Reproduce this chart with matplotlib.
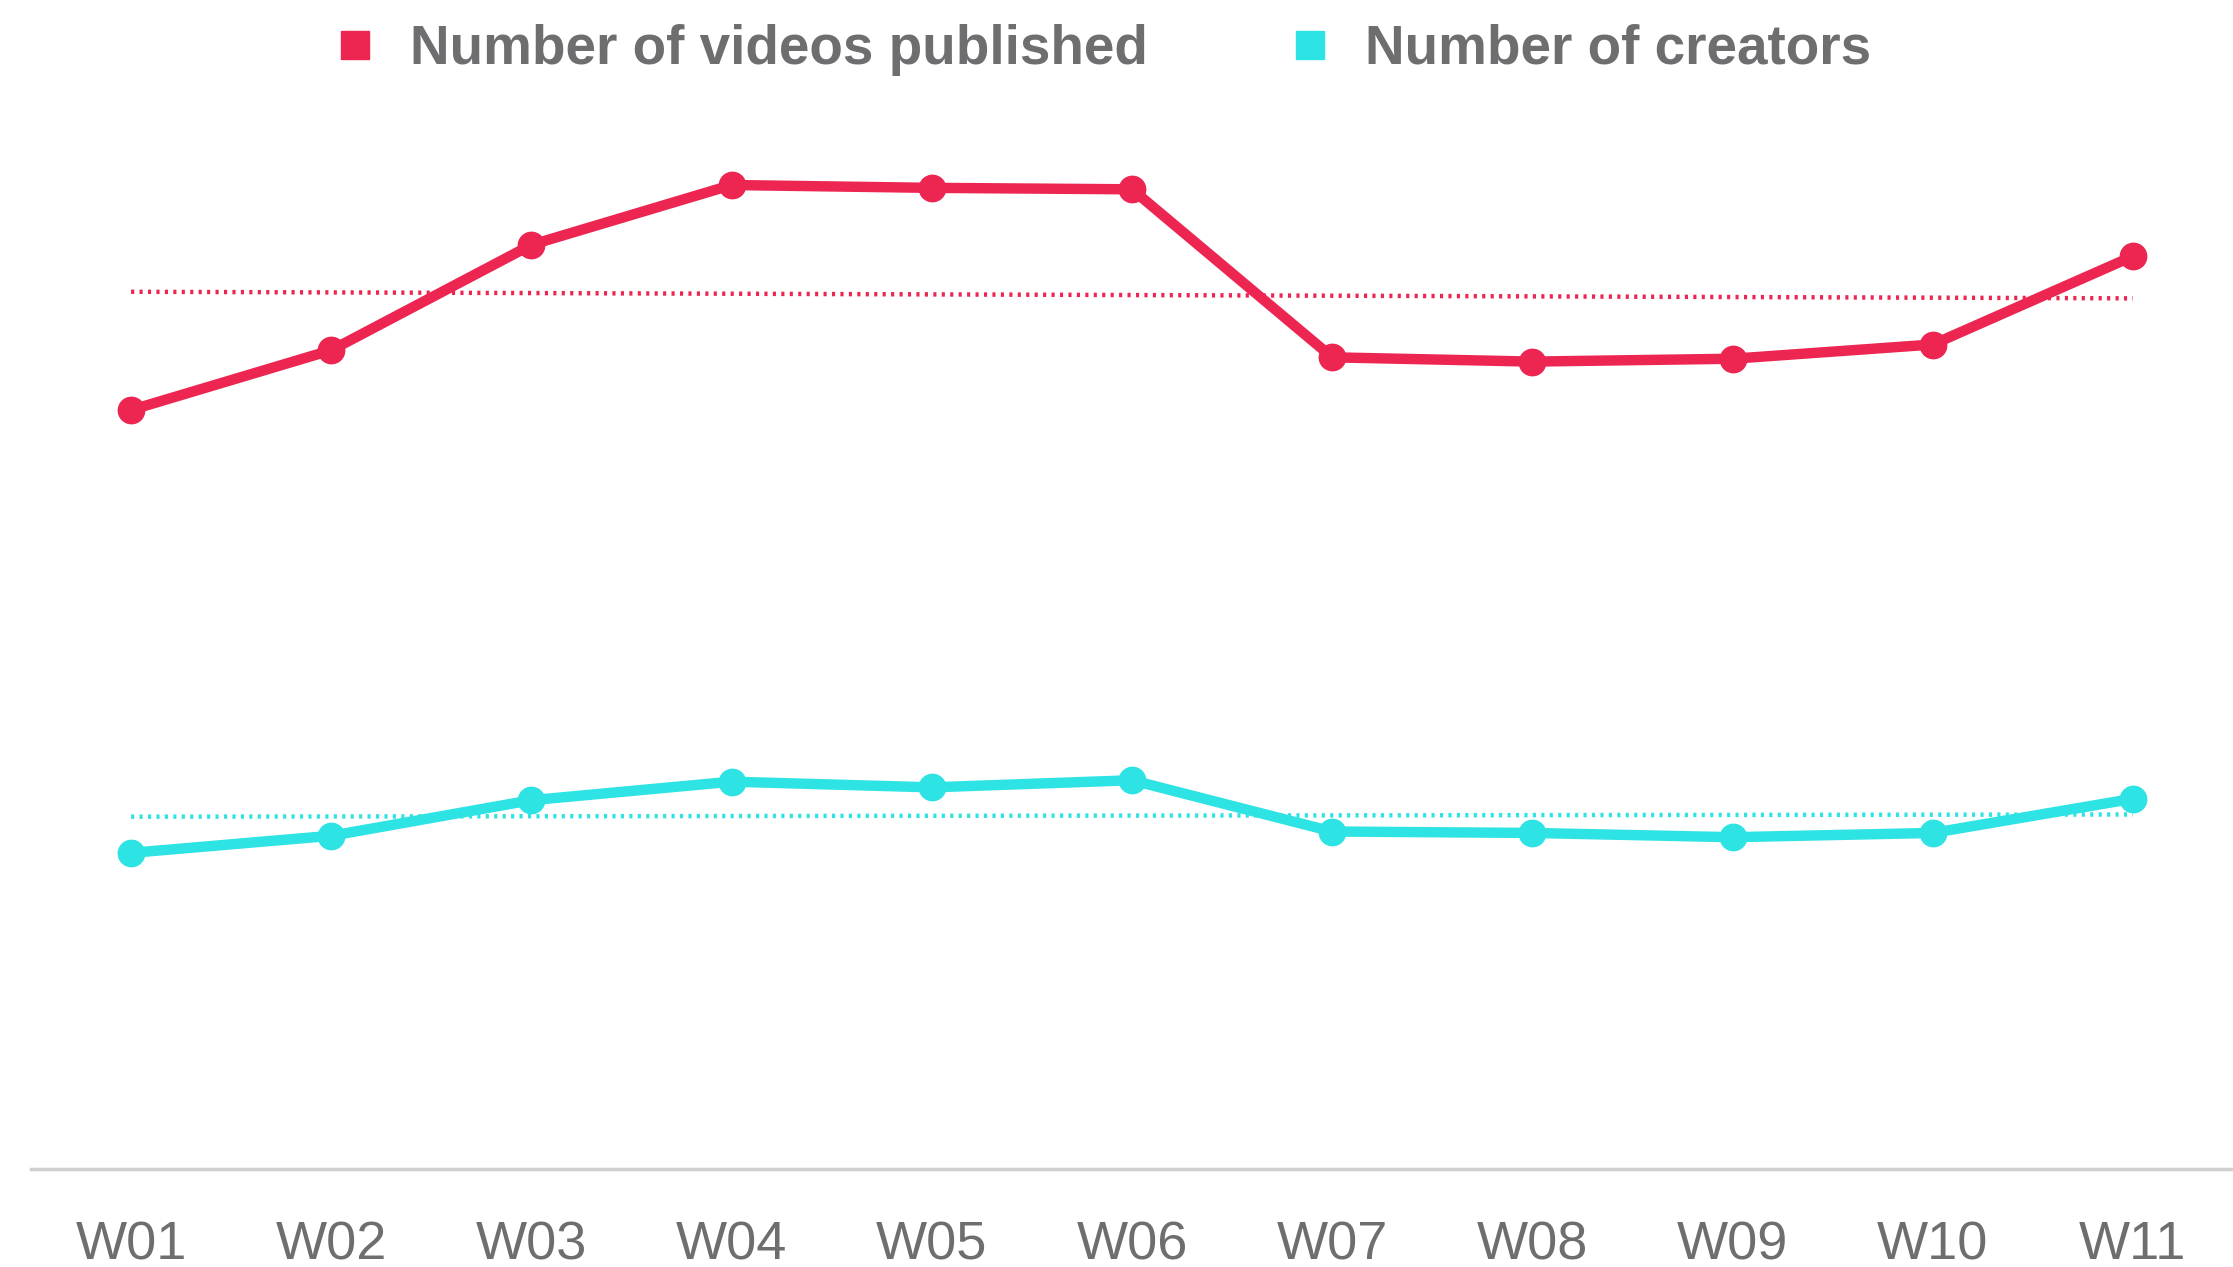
import numpy as np
import matplotlib
matplotlib.use("Agg")
import matplotlib.pyplot as plt
from matplotlib.lines import Line2D

weeks = ["W01", "W02", "W03", "W04", "W05", "W06", "W07", "W08", "W09", "W10", "W11"]
videos_published = [533, 575, 649, 691, 689, 688, 570, 567, 569, 579, 641]
creators = [222, 234, 259, 272, 268, 273, 237, 236, 233, 236, 260]

RED = "#EC2651"
CYAN = "#2EE3E4"
GRAY = "#6E6E70"

fig = plt.figure(figsize=(22.33, 12.67), dpi=100)
ax = fig.add_axes([31 / 2233, 1 - 1169 / 1267, 1 - 31 / 2233, (1169 - 100) / 1267])

x = np.arange(len(weeks))
for vals, col in [(videos_published, RED), (creators, CYAN)]:
    ax.plot(x, vals, color=col, lw=7.5, marker="o", ms=19, solid_joinstyle="round", zorder=3)
    k, b = np.polyfit(x, vals, 1)
    ax.plot(x, k * x + b, color=col, lw=3.2, linestyle=(0, (0.7, 1.2)), zorder=2)

ax.set_xlim(-0.5, 10.5)
ax.set_ylim(0, (1169 - 100) / 1.424)
ax.set_xticks(x)
ax.set_xticklabels(weeks, fontsize=39, family="Liberation Sans", color=GRAY)
ax.tick_params(axis="x", length=0, pad=37)
ax.set_yticks([])
for s in ["left", "right", "top"]:
    ax.spines[s].set_visible(False)
ax.spines["bottom"].set_color("#CFCFCF")
ax.spines["bottom"].set_linewidth(2.5)

handles = [Line2D([], [], color=RED, marker="s", ls="none", ms=20),
           Line2D([], [], color=CYAN, marker="s", ls="none", ms=20)]
leg = fig.legend(handles, ["Number of videos published", "Number of creators"],
                 loc="center", bbox_to_anchor=(774 / 1568, 1 - 50 / 1267), ncol=2, frameon=False,
                 prop={"family": "Liberation Sans", "weight": "bold", "size": 39.5},
                 handletextpad=0.6, columnspacing=2.55, handlelength=0.8)
for t in leg.get_texts():
    t.set_color(GRAY)

fig.savefig("out.png", dpi=100, facecolor="white")
